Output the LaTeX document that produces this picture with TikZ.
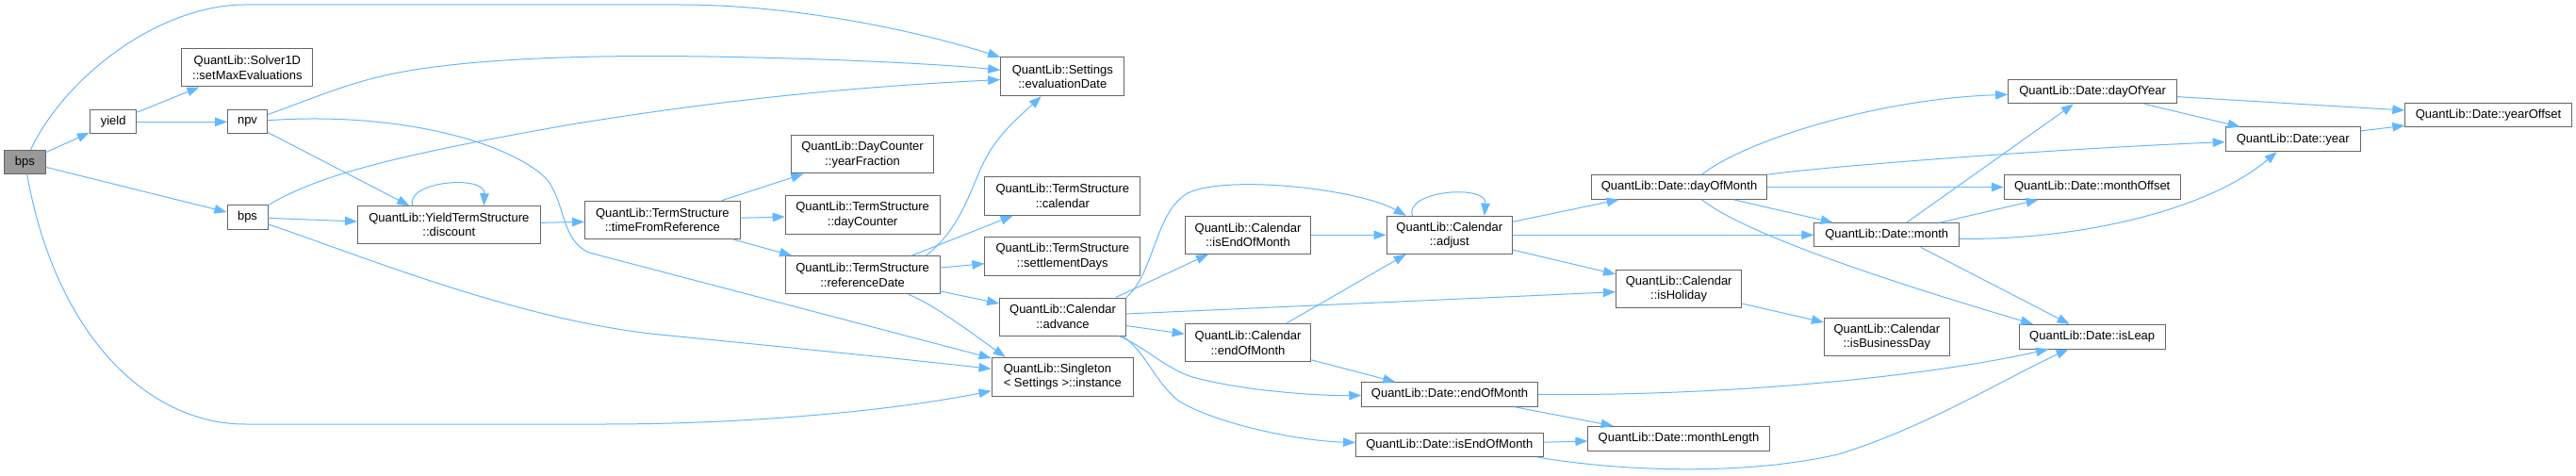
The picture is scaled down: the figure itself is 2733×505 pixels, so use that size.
\documentclass[tikz,border=0pt]{standalone}
\usepackage{fontspec}
\setmainfont{Liberation Sans}
\usetikzlibrary{arrows.meta}
\definecolor{edgeblue}{HTML}{63B8FF}
\definecolor{boxgray}{HTML}{666666}
\definecolor{rootgray}{HTML}{999999}
\tikzset{
  fn/.style={draw=boxgray, line width=1pt, fill=white, inner sep=0pt, align=center,
    font=\fontsize{13}{15.3}\selectfont},
  rootfn/.style={fn, fill=rootgray},
  callarrow/.style={draw=edgeblue, line width=1pt, -{Triangle[length=13pt,width=9.5pt]}},
}
\begin{document}
\begin{tikzpicture}[x=1pt,y=-1pt]
\useasboundingbox (0,0) rectangle (2733,505);
% nodes
\node[rootfn, minimum width=43.7pt, minimum height=25pt] (bps) at (26.3,171.8) {bps};
\node[fn, minimum width=49.5pt, minimum height=25.3pt] (yield) at (120.2,129.3) {yield};
\node[fn, minimum width=139pt, minimum height=40.3pt] (solver) at (262.4,71.8) {QuantLib::Solver1D\\::setMaxEvaluations};
\node[fn, minimum width=42pt, minimum height=25.3pt] (npv) at (262.5,129.3) {npv};
\node[fn, minimum width=43pt, minimum height=25.6pt] (bpstwo) at (262.5,230.5) {bps};
\node[fn, minimum width=193.7pt, minimum height=40pt] (discount) at (476.3,238.7) {QuantLib::YieldTermStructure\\::discount};
\node[fn, minimum width=164.8pt, minimum height=40pt] (tfr) at (702.8,233.3) {QuantLib::TermStructure\\::timeFromReference};
\node[fn, minimum width=150.5pt, minimum height=40pt] (yearfrac) at (915,164) {QuantLib::DayCounter\\::yearFraction};
\node[fn, minimum width=163.8pt, minimum height=40pt] (daycounter) at (915.1,228) {QuantLib::TermStructure\\::dayCounter};
\node[fn, minimum width=163.8pt, minimum height=40.3pt] (refdate) at (915.1,291.8) {QuantLib::TermStructure\\::referenceDate};
\node[fn, minimum width=131.2pt, minimum height=40.7pt] (evaldate) at (1127.3,81.3) {QuantLib::Settings\\::evaluationDate};
\node[fn, minimum width=164.8pt, minimum height=40.6pt] (tscal) at (1127.3,208) {QuantLib::TermStructure\\::calendar};
\node[fn, minimum width=164.8pt, minimum height=40.6pt] (settle) at (1127.3,272) {QuantLib::TermStructure\\::settlementDays};
\node[fn, minimum width=133.7pt, minimum height=40pt] (advance) at (1127.5,336) {QuantLib::Calendar\\::advance};
\node[fn, minimum width=150.6pt, minimum height=40.7pt, align=left] (instance) at (1127.3,399.7) {QuantLib::Singleton\\< Settings >::instance};
\node[fn, minimum width=133.7pt, minimum height=40pt] (caliseom) at (1324,249.3) {QuantLib::Calendar\\::isEndOfMonth};
\node[fn, minimum width=133.7pt, minimum height=40.3pt] (caleom) at (1324,363.8) {QuantLib::Calendar\\::endOfMonth};
\node[fn, minimum width=133.5pt, minimum height=40pt] (adjust) at (1537.8,249.3) {QuantLib::Calendar\\::adjust};
\node[fn, minimum width=186.5pt, minimum height=25.6pt] (dom) at (1781.5,198.5) {QuantLib::Date::dayOfMonth};
\node[fn, minimum width=153.6pt, minimum height=25.3pt] (month) at (2001.7,249.3) {QuantLib::Date::month};
\node[fn, minimum width=133.4pt, minimum height=40pt] (isholiday) at (1781.2,306.7) {QuantLib::Calendar\\::isHoliday};
\node[fn, minimum width=133pt, minimum height=40pt] (isbd) at (2001.9,357.3) {QuantLib::Calendar\\::isBusinessDay};
\node[fn, minimum width=186.5pt, minimum height=25.6pt] (dateeom) at (1538,418.5) {QuantLib::Date::endOfMonth};
\node[fn, minimum width=192.2pt, minimum height=25.7pt] (monthlen) at (1781,465.2) {QuantLib::Date::monthLength};
\node[fn, minimum width=198.5pt, minimum height=25.4pt] (dateiseom) at (1537.8,472) {QuantLib::Date::isEndOfMonth};
\node[fn, minimum width=179pt, minimum height=25.3pt] (doy) at (2220.1,97.3) {QuantLib::Date::dayOfYear};
\node[fn, minimum width=143.3pt, minimum height=25.7pt] (year) at (2432.7,147.8) {QuantLib::Date::year};
\node[fn, minimum width=176.4pt, minimum height=25.3pt] (yearoffset) at (2640,122.3) {QuantLib::Date::yearOffset};
\node[fn, minimum width=186.9pt, minimum height=25.6pt] (moffset) at (2219.7,198.5) {QuantLib::Date::monthOffset};
\node[fn, minimum width=154.7pt, minimum height=25.7pt] (isleap) at (2219.7,357.2) {QuantLib::Date::isLeap};
% edges from bps
\draw[callarrow] (bps) .. controls (70,80) and (170,5) .. (260,5) -- (720,5) .. controls (850,5) and (980,35) .. (evaldate);
\draw[callarrow] (bps) -- (yield);
\draw[callarrow] (bps) -- (bpstwo);
\draw[callarrow] (bps) .. controls (60,360) and (160,450) .. (260,450) -- (640,450) .. controls (800,450) and (950,435) .. (instance);
% yield
\draw[callarrow] (yield) -- (solver);
\draw[callarrow] (yield) -- (npv);
% npv
\draw[callarrow] (npv) .. controls (330,105) and (360,92) .. (400,82) .. controls (480,62) and (620,58) .. (750,60) .. controls (880,62) and (1000,68) .. (evaldate);
\draw[callarrow] (npv) -- (discount.154);
\draw[callarrow] (npv) .. controls (420,118) and (540,150) .. (580,190) .. controls (600,215) and (595,255) .. (625,268) -- (instance);
% bps (second)
\draw[callarrow] (bpstwo) .. controls (340,185) and (420,165) .. (600,133) .. controls (800,100) and (950,90) .. (evaldate);
\draw[callarrow] (bpstwo) -- (discount);
\draw[callarrow] (bpstwo) .. controls (380,270) and (550,340) .. (700,355) .. controls (850,370) and (950,380) .. (instance);
% discount
\draw[callarrow] ([xshift=-38.8pt]discount.north) .. controls (430,192) and (515,185) .. ([xshift=37.1pt]discount.north);
\draw[callarrow] (discount) -- (tfr);
% timeFromReference
\draw[callarrow] (tfr) -- (yearfrac);
\draw[callarrow] (tfr) -- (daycounter);
\draw[callarrow] (tfr) -- (refdate);
% referenceDate
\draw[callarrow] (refdate.17) .. controls (1015,245) and (1025,215) .. (1040,180) .. controls (1055,145) and (1080,125) .. (evaldate);
\draw[callarrow] (refdate) -- (tscal);
\draw[callarrow] (refdate) -- (settle);
\draw[callarrow] (refdate) -- (advance);
\draw[callarrow] (refdate.-23) .. controls (990,322) and (1040,360) .. (instance.161);
% advance
\draw[callarrow] (advance.north east) .. controls (1225,290) and (1225,225) .. (1260,205) .. controls (1300,185) and (1440,200) .. (adjust.156);
\draw[callarrow] (advance.20) -- (caliseom.206);
\draw[callarrow] (advance) -- (isholiday);
\draw[callarrow] (advance) -- (caleom);
\draw[callarrow] (advance.-19.8) .. controls (1215,368) and (1235,390) .. (1265,400) .. controls (1320,415) and (1400,420) .. (dateeom);
\draw[callarrow] (advance.-18.5) .. controls (1215,372) and (1225,405) .. (1250,425) .. controls (1290,450) and (1380,468) .. (dateiseom);
% calendar isEndOfMonth / endOfMonth
\draw[callarrow] (caliseom) -- (adjust);
\draw[callarrow] (caleom.27) -- (adjust.204);
\draw[callarrow] (caleom.-15) -- (dateeom.167);
% adjust
\draw[callarrow] ([xshift=-39.5pt]adjust.north) .. controls (1490,202) and (1578,195) .. ([xshift=37pt]adjust.north);
\draw[callarrow] (adjust) -- (dom);
\draw[callarrow] (adjust) -- (month);
\draw[callarrow] (adjust) -- (isholiday);
% dayOfMonth
\draw[callarrow] (dom.29) .. controls (1850,150) and (1990,105) .. (doy);
\draw[callarrow] (dom.north east) .. controls (1950,175) and (2200,157) .. (year);
\draw[callarrow] (dom) -- (moffset);
\draw[callarrow] (dom) -- (month);
\draw[callarrow] (dom.-29) .. controls (1860,255) and (2060,315) .. (isleap.168);
% month
\draw[callarrow] (month.32) -- (doy.213);
\draw[callarrow] (month) -- (moffset);
\draw[callarrow] (month.-3) .. controls (2200,255) and (2340,225) .. (year.218);
\draw[callarrow] (month.-20) -- (isleap.151);
% isHoliday
\draw[callarrow] (isholiday) -- (isbd);
% Date endOfMonth
\draw[callarrow] (dateeom.east) .. controls (1850,420) and (2050,398) .. (isleap.196);
\draw[callarrow] (dateeom) -- (monthlen);
% Date isEndOfMonth
\draw[callarrow] (dateiseom) -- (monthlen);
\draw[callarrow] (dateiseom.-8.5) .. controls (1720,500) and (1850,505) .. (1950,482) .. controls (2040,455) and (2130,400) .. (isleap.208);
% dayOfYear / year
\draw[callarrow] (doy) -- (yearoffset);
\draw[callarrow] (doy) -- (year);
\draw[callarrow] (year) -- (yearoffset);
\end{tikzpicture}
\end{document}
